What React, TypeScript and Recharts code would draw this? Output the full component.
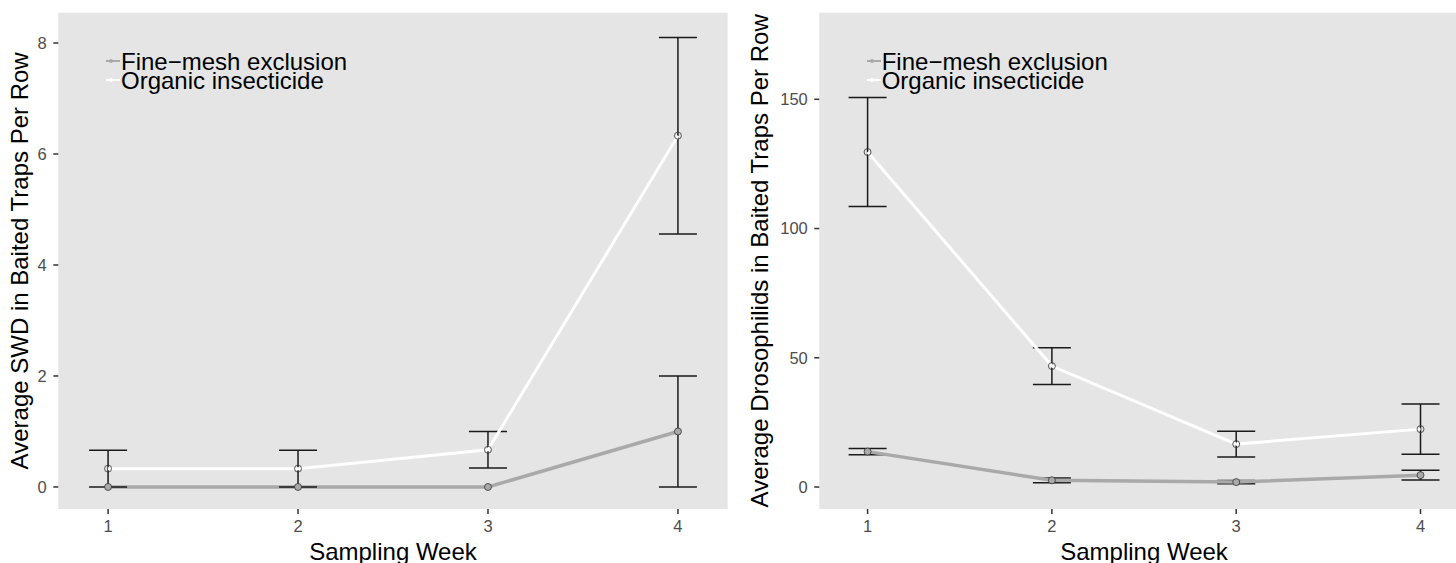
import {
  ComposedChart,
  Line,
  XAxis,
  YAxis,
  CartesianGrid,
  ErrorBar,
  Legend,
  Label,
} from "recharts";

// sampling weeks (x)
const weeks = [1, 2, 3, 4];

// series
const seriesNames = ["Fine−mesh exclusion", "Organic insecticide"];
const seriesColors = ["#A9A9A9", "#FFFFFF"];

// left panel: SWD
const swdFineMean = [0, 0, 0, 1];
const swdFineSe = [0, 0, 0, 1];
const swdOrganicMean = [0.33, 0.33, 0.67, 6.33];
const swdOrganicSe = [0.33, 0.33, 0.33, 1.77];
const swdTicks = [0, 2, 4, 6, 8];

// right panel: drosophilids
const droFineMean = [13.7, 2.6, 1.9, 4.6];
const droFineSe = [1.2, 0.9, 0.6, 1.9];
const droOrganicMean = [129.6, 46.8, 16.6, 22.4];
const droOrganicSe = [21.1, 7.1, 5.0, 9.7];
const droTicks = [0, 50, 100, 150];

const FONT = "'Liberation Sans', Arial, Helvetica, sans-serif";

const buildRows = (fm: number[], fs: number[], om: number[], os: number[]) =>
  weeks.map((w, i) => ({
    week: w,
    fine: fm[i],
    fineErr: fs[i],
    organic: om[i],
    organicErr: os[i],
  }));

const swdData = buildRows(swdFineMean, swdFineSe, swdOrganicMean, swdOrganicSe);
const droData = buildRows(droFineMean, droFineSe, droOrganicMean, droOrganicSe);

const renderLegend = () => (
  <div style={{ fontFamily: FONT, fontSize: 24, lineHeight: "19px", color: "#000" }}>
    {seriesNames.map((name, i) => (
      <div key={name} style={{ display: "flex", alignItems: "center", height: 19 }}>
        <svg width={15} height={8} style={{ display: "block" }}>
          <line x1={0} y1={4} x2={14} y2={4} stroke={seriesColors[i]} strokeWidth={2} />
          <circle cx={5} cy={4} r={2} fill={seriesColors[i]} />
        </svg>
        <span style={{ whiteSpace: "nowrap" }}>{name}</span>
      </div>
    ))}
  </div>
);

type PanelProps = {
  data: any[];
  yDomain: [number, number];
  yTicks: number[];
  yTitle: string;
  yAxisWidth: number;
  rightMargin: number;
  left: number;
  legendLeft: number;
};

function Panel({ data, yDomain, yTicks, yTitle, yAxisWidth, rightMargin, left, legendLeft }: PanelProps) {
  return (
    <div style={{ position: "absolute", left, top: 0 }}>
      <ComposedChart
        width={740}
        height={563}
        data={data}
        margin={{ top: 12.7, right: rightMargin, left: 0, bottom: 0 }}
      >
        <CartesianGrid fill="#E5E5E5" stroke="none" horizontal={false} vertical={false} />
        <XAxis
          dataKey="week"
          type="number"
          domain={[0.738, 4.262]}
          ticks={weeks}
          allowDataOverflow
          axisLine={false}
          tickLine={{ stroke: "#333333", strokeWidth: 1.5 }}
          tickSize={5}
          tickMargin={6}
          tick={{ fill: "#4D4D4D", fontSize: 16.5, fontFamily: FONT }}
          height={54}
        >
          <Label
            value="Sampling Week"
            position="insideBottom"
            offset={3}
            style={{ fontSize: 24, fill: "#000", fontFamily: FONT }}
          />
        </XAxis>
        <YAxis
          type="number"
          domain={yDomain}
          ticks={yTicks}
          allowDataOverflow
          axisLine={false}
          tickLine={{ stroke: "#333333", strokeWidth: 1.5 }}
          tickSize={5}
          tickMargin={6.5}
          tick={{ fill: "#4D4D4D", fontSize: 16.5, fontFamily: FONT }}
          width={yAxisWidth}
        >
          <Label
            content={(props: any) => {
              const vb = props.viewBox || { y: 12.7, height: 496.3 };
              const cy = vb.y + vb.height / 2;
              return (
                <text
                  x={20}
                  y={cy}
                  transform={`rotate(-90, 20, ${cy})`}
                  textAnchor="middle"
                  dominantBaseline="central"
                  style={{ fontSize: 24, fill: "#000", fontFamily: FONT }}
                >
                  {yTitle}
                </text>
              );
            }}
          />
        </YAxis>
        <Legend
          layout="vertical"
          align="center"
          verticalAlign="middle"
          content={renderLegend}
          wrapperStyle={{ left: legendLeft, top: 51.5, width: "auto" }}
        />
        <Line
          type="linear"
          dataKey="fine"
          name={seriesNames[0]}
          stroke={seriesColors[0]}
          strokeWidth={3.5}
          dot={{ r: 3.5, stroke: "#333333", strokeWidth: 0.8, fill: "#A9A9A9" }}
          activeDot={false}
          isAnimationActive={false}
        >
          <ErrorBar dataKey="fineErr" width={19} stroke="#1A1A1A" strokeWidth={1.5} direction="y" isAnimationActive={false} />
        </Line>
        <Line
          type="linear"
          dataKey="organic"
          name={seriesNames[1]}
          stroke={seriesColors[1]}
          strokeWidth={3}
          dot={{ r: 3.5, stroke: "#333333", strokeWidth: 0.8, fill: "none" }}
          activeDot={false}
          isAnimationActive={false}
        >
          <ErrorBar dataKey="organicErr" width={19} stroke="#1A1A1A" strokeWidth={1.5} direction="y" isAnimationActive={false} />
        </Line>
      </ComposedChart>
    </div>
  );
}

export default function App() {
  return (
    <div
      style={{
        position: "absolute",
        left: 0,
        top: 0,
        width: 1456,
        height: 563,
        overflow: "hidden",
        background: "#FFFFFF",
        fontFamily: FONT,
      }}
    >
      <Panel
        data={swdData}
        yDomain={[-0.397, 8.546]}
        yTicks={swdTicks}
        yTitle="Average SWD in Baited Traps Per Row"
        yAxisWidth={58.3}
        rightMargin={12.3}
        left={0}
        legendLeft={106}
      />
      <Panel
        data={droData}
        yDomain={[-8.5, 183.5]}
        yTicks={droTicks}
        yTitle="Average Drosophilids in Baited Traps Per Row"
        yAxisWidth={79.3}
        rightMargin={11.2}
        left={740}
        legendLeft={126.7}
      />
    </div>
  );
}
